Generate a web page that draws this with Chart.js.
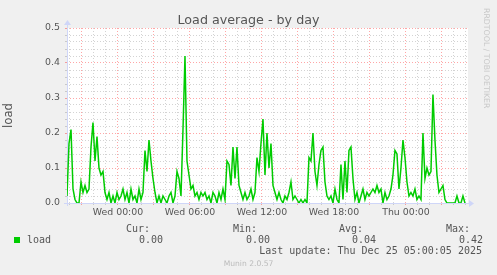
<!DOCTYPE html>
<html>
<head>
<meta charset="utf-8">
<script src="https://cdn.jsdelivr.net/npm/chart.js@4.4.1/dist/chart.umd.min.js"></script>
<style>
  body { margin: 0; background: #f0f0f0; }
  #wrap { position: relative; width: 497px; height: 275px; overflow: hidden; }
  canvas { position: absolute; left: 0; top: 0; }
  .title { position: absolute; left: 0; width: 497px; top: 12px; text-align: center; font-family: "DejaVu Sans", sans-serif; font-size: 12.7px; line-height: 15px; color: #555; }
  .txt { position: absolute; white-space: pre; font-family: "DejaVu Sans Mono", monospace; font-size: 10px; line-height: 12px; color: #555; }
  .swatch { position: absolute; left: 14px; top: 237px; width: 6px; height: 6px; background: #00cc00; }
  .munin { position: absolute; left: 0; width: 497px; top: 259px; text-align: center; font-family: "DejaVu Sans", sans-serif; font-size: 7.6px; line-height: 10px; color: #bbb; }
  .rrd { position: absolute; left: 482px; top: 8px; writing-mode: vertical-rl; font-family: "DejaVu Sans", sans-serif; font-size: 7.8px; color: #c8c8c8; white-space: pre; }
</style>
</head>
<body>
<div id="wrap">
  <canvas id="chart" width="497" height="275"></canvas>
  <div class="title" id="title"></div>
  <div class="rrd">RRDTOOL / TOBI OETIKER</div>
  <div class="txt" id="h0" style="right:347px; top:222.5px"></div>
  <div class="txt" id="h1" style="right:240px; top:222.5px"></div>
  <div class="txt" id="h2" style="right:134px; top:222.5px"></div>
  <div class="txt" id="h3" style="right:27px; top:222.5px"></div>
  <div class="swatch"></div>
  <div class="txt" id="seriesName" style="left:27px; top:233.5px"></div>
  <div class="txt" id="v0" style="right:334px; top:233.5px"></div>
  <div class="txt" id="v1" style="right:227px; top:233.5px"></div>
  <div class="txt" id="v2" style="right:121px; top:233.5px"></div>
  <div class="txt" id="v3" style="right:14px; top:233.5px"></div>
  <div class="txt" id="lastUpdate" style="right:15px; top:245px"></div>
  <div class="munin">Munin 2.0.57</div>
</div>
<script>
// hours relative to Wed 00:00, one sample every 10 minutes
const startHour = -4.25;
const stepHour = 1 / 6;

const loadValues = [
  0.02, 0.17, 0.21, 0.04, 0.01, 0.00, 0.00, 0.06, 0.03, 0.05,
  0.03, 0.04, 0.16, 0.23, 0.12, 0.19, 0.10, 0.08, 0.09, 0.03,
  0.01, 0.03, 0.00, 0.02, 0.00, 0.03, 0.01, 0.02, 0.04, 0.01,
  0.03, 0.00, 0.04, 0.01, 0.02, 0.00, 0.04, 0.01, 0.03, 0.15,
  0.09, 0.18, 0.12, 0.07, 0.03, 0.00, 0.02, 0.00, 0.02, 0.01,
  0.00, 0.02, 0.03, 0.00, 0.02, 0.09, 0.07, 0.02, 0.21, 0.42,
  0.12, 0.08, 0.04, 0.05, 0.02, 0.03, 0.01, 0.03, 0.02, 0.03,
  0.01, 0.02, 0.00, 0.03, 0.02, 0.00, 0.03, 0.01, 0.04, 0.01,
  0.12, 0.11, 0.05, 0.16, 0.07, 0.16, 0.05, 0.03, 0.01, 0.03,
  0.01, 0.02, 0.04, 0.01, 0.03, 0.13, 0.09, 0.17, 0.24, 0.08,
  0.20, 0.10, 0.17, 0.05, 0.03, 0.01, 0.03, 0.01, 0.00, 0.02,
  0.01, 0.03, 0.06, 0.01, 0.02, 0.01, 0.00, 0.01, 0.00, 0.01,
  0.00, 0.13, 0.12, 0.20, 0.09, 0.05, 0.11, 0.15, 0.16, 0.06,
  0.02, 0.01, 0.02, 0.00, 0.04, 0.01, 0.00, 0.11, 0.01, 0.12,
  0.03, 0.15, 0.16, 0.07, 0.01, 0.03, 0.00, 0.02, 0.04, 0.01,
  0.03, 0.02, 0.03, 0.04, 0.03, 0.05, 0.03, 0.04, 0.00, 0.03,
  0.01, 0.02, 0.04, 0.08, 0.15, 0.14, 0.04, 0.10, 0.18, 0.13,
  0.06, 0.02, 0.03, 0.02, 0.04, 0.01, 0.02, 0.01, 0.20, 0.07,
  0.10, 0.08, 0.09, 0.31, 0.18, 0.08, 0.03, 0.04, 0.05, 0.01,
  0.00, 0.00, 0.00, 0.00, 0.00, 0.02, 0.00, 0.00, 0.02, 0.00
];

const xTickHours = [0, 6, 12, 18, 24];
const xTickLabels = ['Wed 00:00', 'Wed 06:00', 'Wed 12:00', 'Wed 18:00', 'Thu 00:00'];
const yTickLabels = ['0.0', '0.1', '0.2', '0.3', '0.4', '0.5'];

const chartTitle = 'Load average - by day';
const legendHeaders = ['Cur:', 'Min:', 'Avg:', 'Max:'];
const legendValues = ['0.00', '0.00', '0.04', '0.42'];
const seriesName = 'load';
const lastUpdate = 'Last update: Thu Dec 25 05:00:05 2025';

const xMin = -4.25;
const xMax = 29.17;
const yMax = 0.5;

const LINE_GREEN = '#00cc00';
const GRID_GRAY = 'rgba(128,128,128,0.35)';
const GRID_RED = 'rgba(255,0,0,0.35)';
const AXIS_BLUE = '#cfd6f8';
const TEXT = '#555';
const TICK_FONT = { family: "'DejaVu Sans'", size: 9.4 };

// html text parts
document.getElementById('title').textContent = chartTitle;
document.getElementById('seriesName').textContent = seriesName;
legendHeaders.forEach((h, i) => {
  document.getElementById('h' + i).textContent = h;
});
legendValues.forEach((v, i) => {
  document.getElementById('v' + i).textContent = v;
});
document.getElementById('lastUpdate').textContent = lastUpdate;

const points = loadValues.map((v, i) => ({ x: startHour + i * stepHour, y: v }));

function isTenth(v) {
  return Math.abs(Math.round(v * 10) - v * 10) < 1e-6;
}

// white canvas behind the plot
const canvasBg = {
  id: 'canvasBg',
  beforeDraw(chart) {
    const { ctx, chartArea: a } = chart;
    ctx.save();
    ctx.fillStyle = '#ffffff';
    ctx.fillRect(a.left, a.top, a.right - a.left, a.bottom - a.top);
    ctx.restore();
  }
};

// rrdtool-style axes with arrows
const axisArrows = {
  id: 'axisArrows',
  beforeDatasetsDraw(chart) {
    const { ctx, chartArea: a } = chart;
    ctx.save();
    ctx.strokeStyle = AXIS_BLUE;
    ctx.fillStyle = AXIS_BLUE;
    ctx.lineWidth = 1;
    ctx.beginPath();
    ctx.moveTo(a.left - 3, a.bottom + 0.5);
    ctx.lineTo(a.right + 2, a.bottom + 0.5);
    ctx.moveTo(a.left + 0.5, a.bottom + 3);
    ctx.lineTo(a.left + 0.5, a.top - 3);
    ctx.stroke();
    ctx.beginPath();
    ctx.moveTo(a.right + 6, a.bottom + 0.5);
    ctx.lineTo(a.right + 1, a.bottom - 3);
    ctx.lineTo(a.right + 1, a.bottom + 4);
    ctx.closePath();
    ctx.fill();
    ctx.beginPath();
    ctx.moveTo(a.left + 0.5, a.top - 8);
    ctx.lineTo(a.left - 3, a.top - 3);
    ctx.lineTo(a.left + 4, a.top - 3);
    ctx.closePath();
    ctx.fill();
    ctx.restore();
  }
};

new Chart(document.getElementById('chart'), {
  type: 'line',
  data: {
    datasets: [{
      label: seriesName,
      data: points,
      borderColor: LINE_GREEN,
      borderWidth: 1.5,
      pointRadius: 0,
      tension: 0,
      fill: false
    }]
  },
  options: {
    responsive: false,
    animation: false,
    devicePixelRatio: 1,
    layout: { padding: { left: 0, right: 29, top: 28, bottom: 52 } },
    plugins: {
      legend: { display: false },
      tooltip: { enabled: false },
      title: { display: false }
    },
    scales: {
      x: {
        type: 'linear',
        min: xMin,
        max: xMax,
        afterBuildTicks(scale) {
          const ticks = [];
          for (let h = Math.ceil(xMin); h <= Math.floor(xMax); h++) ticks.push({ value: h });
          scale.ticks = ticks;
        },
        afterFit(scale) { scale.height = 20; },
        ticks: {
          autoSkip: false,
          maxRotation: 0,
          padding: 2,
          color: TEXT,
          font: TICK_FONT,
          callback(v) {
            const k = xTickHours.indexOf(v);
            return k >= 0 ? xTickLabels[k] : '';
          }
        },
        grid: {
          drawTicks: true,
          tickLength: 2,
          tickBorderDash: [],
          lineWidth: 1,
          color(ctx) {
            const v = ctx.tick ? ctx.tick.value : 0;
            return ((v % 3) + 3) % 3 === 0 ? GRID_RED : GRID_GRAY;
          }
        },
        border: { display: false, dash: [1, 2] }
      },
      y: {
        min: 0,
        max: yMax,
        afterBuildTicks(scale) {
          const ticks = [];
          for (let k = 0; k <= 25; k++) ticks.push({ value: k * 0.02 });
          scale.ticks = ticks;
        },
        afterFit(scale) { scale.width = 67; },
        ticks: {
          autoSkip: false,
          padding: 5,
          color: TEXT,
          font: TICK_FONT,
          callback(v) {
            return isTenth(v) ? yTickLabels[Math.round(v * 10)] : '';
          }
        },
        grid: {
          drawTicks: true,
          tickLength: 2,
          tickBorderDash: [],
          lineWidth: 1,
          color(ctx) {
            const v = ctx.tick ? ctx.tick.value : 0;
            return isTenth(v) ? GRID_RED : GRID_GRAY;
          }
        },
        border: { display: false, dash: [1, 2] },
        title: {
          display: true,
          text: seriesName,
          color: TEXT,
          font: { family: "'DejaVu Sans'", size: 11.7 },
          padding: { top: 2, bottom: 0 }
        }
      }
    }
  },
  plugins: [canvasBg, axisArrows]
});
</script>
</body>
</html>
